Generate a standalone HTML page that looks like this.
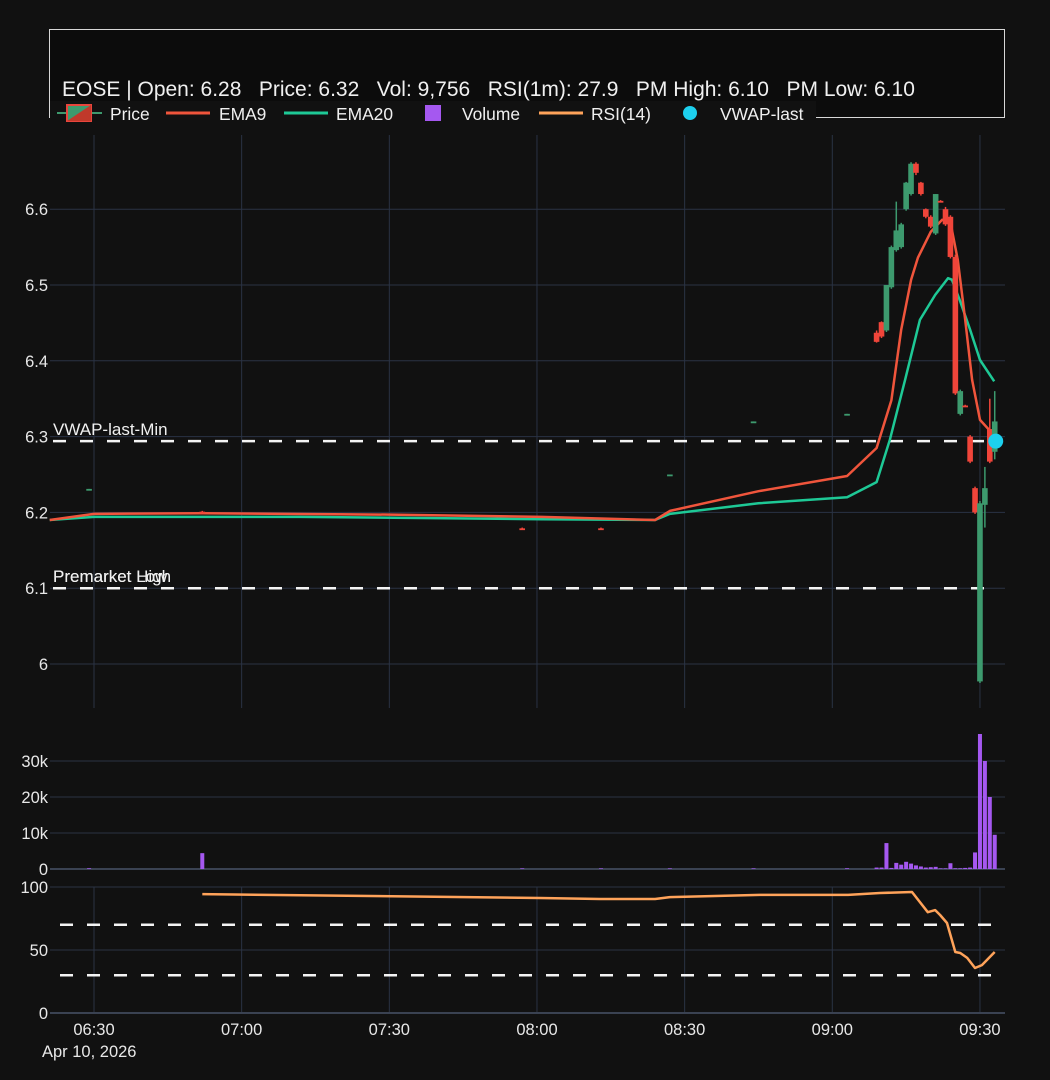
<!DOCTYPE html>
<html><head><meta charset="utf-8">
<style>
html,body{margin:0;padding:0;background:#111111;}
svg{display:block;font-family:"Liberation Sans",sans-serif;}
</style></head>
<body>
<svg id="chart" width="1050" height="1080" viewBox="0 0 1050 1080" xmlns="http://www.w3.org/2000/svg">
<rect x="0" y="0" width="1050" height="1080" fill="#111111"/>
<g id="grid"></g>
<g id="refs"></g>
<g id="marks"></g>
<g id="axes"></g>
<rect x="49.5" y="29.5" width="955" height="88" fill="#0c0c0c" stroke="#d8d8d8" stroke-width="1"/>
<text x="62" y="96" fill="#f0f0f0" font-size="21" xml:space="preserve">EOSE | Open: 6.28   Price: 6.32   Vol: 9,756   RSI(1m): 27.9   PM High: 6.10   PM Low: 6.10</text>
<g>
<rect x="50" y="101" width="766" height="24" fill="#111111"/>
<g>
<line x1="57" y1="113" x2="102" y2="113" stroke="#3d9a6e" stroke-width="2"/>
<rect x="67" y="105" width="24" height="16" fill="#3d9a6e" stroke="#e8453c" stroke-width="2"/>
<polygon points="91,105 91,121 67,121" fill="#c0392b"/>
<text x="110" y="120" fill="#f0f0f0" font-size="17.4">Price</text></g>
<g>
<line x1="166" y1="113" x2="210" y2="113" stroke="#f0553c" stroke-width="3"/>
<text x="219" y="120" fill="#f0f0f0" font-size="17.4">EMA9</text></g>
<g>
<line x1="284" y1="113" x2="328" y2="113" stroke="#1ec996" stroke-width="3"/>
<text x="336" y="120" fill="#f0f0f0" font-size="17.4">EMA20</text></g>
<g>
<rect x="425" y="105" width="16" height="16" fill="#a558f0"/>
<text x="462" y="120" fill="#f0f0f0" font-size="17.4">Volume</text></g>
<g>
<line x1="539" y1="113" x2="583" y2="113" stroke="#ffa35a" stroke-width="3"/>
<text x="591" y="120" fill="#f0f0f0" font-size="17.4">RSI(14)</text></g>
<g>
<circle cx="690" cy="113" r="7" fill="#1dd0ee"/>
<text x="720" y="120" fill="#f0f0f0" font-size="17.4">VWAP-last</text></g>
</g>
</svg>
<script>
// ---- data (time = minutes since midnight) ----
const candleTimes = [389,412,477,493,507,524,543,549,550,551,552,553,554,555,556,557,558,559,560,561,562,563,564,565,566,567,568,569,570,571,572,573];
const candleOpen  = [6.230,6.201,6.179,6.179,6.249,6.319,6.329,6.437,6.451,6.440,6.497,6.546,6.550,6.600,6.620,6.660,6.635,6.600,6.590,6.568,6.611,6.600,6.590,6.537,6.330,6.341,6.300,6.232,5.977,6.210,6.310,6.280];
const candleHigh  = [6.231,6.202,6.180,6.180,6.250,6.320,6.330,6.440,6.452,6.500,6.552,6.610,6.582,6.636,6.662,6.662,6.636,6.601,6.592,6.620,6.612,6.603,6.592,6.540,6.362,6.342,6.302,6.234,6.215,6.260,6.350,6.360];
const candleLow   = [6.229,6.200,6.177,6.177,6.248,6.318,6.328,6.424,6.430,6.438,6.495,6.544,6.548,6.598,6.618,6.645,6.618,6.588,6.575,6.566,6.609,6.578,6.535,6.355,6.328,6.339,6.265,6.198,5.975,6.180,6.265,6.270];
const candleClose = [6.231,6.200,6.178,6.178,6.250,6.320,6.330,6.425,6.432,6.500,6.550,6.572,6.580,6.635,6.660,6.648,6.620,6.590,6.577,6.620,6.610,6.580,6.537,6.357,6.360,6.340,6.267,6.200,6.212,6.232,6.267,6.320];
const volume      = [0.2,4.4,0.1,0.1,0.1,0.1,0.2,0.4,0.4,7.2,0.3,1.7,1.2,2.0,1.5,1.0,0.7,0.4,0.5,0.6,0.0,0.1,1.6,0.2,0.2,0.3,0.4,4.6,37.5,30,20,9.5];
const emaTimes9   = [381,390,412,452,481,504,507,525,543,549,552,554,556,557.4,560,562.3,564,565.5,567,568.4,570,572.4];
const ema9        = [6.190,6.198,6.199,6.197,6.194,6.190,6.202,6.228,6.248,6.285,6.348,6.441,6.507,6.536,6.570,6.586,6.583,6.533,6.454,6.375,6.322,6.305];
const emaTimes20  = [381,390,432,481,504,507,525,543,549,551.7,554.8,557.8,560.9,563.5,564.3,565.9,568,570,572.9];
const ema20       = [6.190,6.194,6.194,6.191,6.190,6.198,6.212,6.220,6.240,6.296,6.375,6.454,6.487,6.509,6.507,6.480,6.441,6.401,6.373];
const rsiTimes    = [412,480.6,492.8,504,507,525.3,543.2,549.7,556.2,559.4,560.9,561.9,563.3,565,566,567.4,569,570.4,573];
const rsi         = [94.4,91.3,90.5,90.5,92,93.7,93.7,95.2,96,80,81.7,77.8,71.4,48.4,47.6,43.7,35.7,38,48.4];
const vwapLast = 6.294, pmHigh = 6.10, pmLow = 6.10, vwapTime = 573.2;
const priceTicks = [6.0,6.1,6.2,6.3,6.4,6.5,6.6];
const priceTickLabels = ["6","6.1","6.2","6.3","6.4","6.5","6.6"];
const volTicks = [0,10,20,30];
const volTickLabels = ["0","10k","20k","30k"];
const rsiTicks = [0,50,100];
const rsiTickLabels = ["0","50","100"];
const timeTicks = [390,420,450,480,510,540,570];
const timeTickLabels = ["06:30","07:00","07:30","08:00","08:30","09:00","09:30"];

// ---- axes ----
const X0=50, X1=1005;
const xs = m => 94 + (m-390)*4.922;
const yP = p => 664 - (p-6)*758;
const yV = v => 869 - v*3.6;
const yR = r => 1013 - r*1.26;
const NS="http://www.w3.org/2000/svg";
function mk(tag, attrs, parent){const e=document.createElementNS(NS,tag);for(const k in attrs)e.setAttribute(k,attrs[k]);parent.appendChild(e);return e;}
const grid=document.getElementById('grid'), refs=document.getElementById('refs'), marks=document.getElementById('marks'), axes=document.getElementById('axes');
const GC="#2a3344";
timeTicks.forEach((t,i)=>{
  let l=mk('line',{x1:xs(t),x2:xs(t),y1:135,y2:708,stroke:GC,'stroke-width':1},grid);
  
  
  let l2=mk('line',{x1:xs(t),x2:xs(t),y1:887,y2:1013,stroke:GC,'stroke-width':1},grid);
  
  
  let tx=mk('text',{x:xs(t),y:1035,fill:'#e8e8e8','font-size':16.5,'text-anchor':'middle'},axes);
  tx.textContent=timeTickLabels[i];
  
  
});
let dt=mk('text',{x:42,y:1057,fill:'#e8e8e8','font-size':16.5},axes);
dt.textContent="Apr 10, 2026";


priceTicks.forEach((p,i)=>{
  let l=mk('line',{x1:X0,x2:X1,y1:yP(p),y2:yP(p),stroke:GC,'stroke-width':1},grid);
  
  
  let tx=mk('text',{x:48,y:yP(p)+6,fill:'#e8e8e8','font-size':16.5,'text-anchor':'end'},axes);
  tx.textContent=priceTickLabels[i];
  
  
});
volTicks.forEach((v,i)=>{
  let l=mk('line',{x1:X0,x2:X1,y1:yV(v),y2:yV(v),stroke:v===0?'#3a4252':GC,'stroke-width':v===0?2:1},grid);
  
  
  let tx=mk('text',{x:48,y:yV(v)+6,fill:'#e8e8e8','font-size':16.5,'text-anchor':'end'},axes);
  tx.textContent=volTickLabels[i];
  
  
});
rsiTicks.forEach((r,i)=>{
  let l=mk('line',{x1:X0,x2:X1,y1:yR(r),y2:yR(r),stroke:r===0?'#3a4252':GC,'stroke-width':r===0?2:1},grid);
  
  
  let tx=mk('text',{x:48,y:yR(r)+6,fill:'#e8e8e8','font-size':16.5,'text-anchor':'end'},axes);
  tx.textContent=rsiTickLabels[i];
  
  
});
function dash(y,x1,x2,name){let l=mk('line',{x1:x1,x2:x2,y1:y,y2:y,stroke:'#f4f4f4','stroke-width':2.5,'stroke-dasharray':'13,14'},refs);
  
  }
dash(yP(vwapLast),53,997,'vwap-line');
dash(yP(pmHigh),53,997,'premarket-high-line');
dash(yP(pmLow),53,997,'premarket-low-line');
dash(yR(70),60,997,'rsi-overbought-line');
dash(yR(30),60,997,'rsi-oversold-line');
[["VWAP-last-Min",yP(vwapLast)-6],["Premarket High",yP(pmHigh)-6],["Premarket Low",yP(pmLow)-6]].forEach(a=>{
  let t=mk('text',{x:53,y:a[1],fill:'#f0f0f0','font-size':17},refs);
  t.textContent=a[0];
  
  
});
candleTimes.forEach((t,i)=>{
  const h=Math.max(volume[i]*3.6,0.6);
  let r=mk('rect',{x:xs(t)-2,y:yV(0)-h,width:4,height:h,fill:'#a558f0'},marks);
  
  
});
function line(ts,vs,fy,color,name){
  const d=ts.map((t,i)=>(i?'L':'M')+xs(t).toFixed(1)+','+fy(vs[i]).toFixed(1)).join(' ');
  let p=mk('path',{d:d,fill:'none',stroke:color,'stroke-width':2.5,'stroke-linejoin':'round'},marks);
  
  
}
line(emaTimes20,ema20,yP,'#1ec996','ema20-line');
line(emaTimes9,ema9,yP,'#f0553c','ema9-line');
line(rsiTimes,rsi,yR,'#ffa35a','rsi-line');
candleTimes.forEach((t,i)=>{
  const up=candleClose[i]>=candleOpen[i];
  const col=up?'#3d9a6e':'#f0453a';
  const cx=xs(t);
  let w=mk('line',{x1:cx,x2:cx,y1:yP(candleHigh[i]),y2:yP(candleLow[i]),stroke:col,'stroke-width':1.5},marks);
  
  
  const top=yP(Math.max(candleOpen[i],candleClose[i])), bot=yP(Math.min(candleOpen[i],candleClose[i]));
  let b=mk('rect',{x:cx-2.8,y:top,width:5.6,height:Math.max(bot-top,1.8),fill:col},marks);
  
  
});
let dot=mk('circle',{cx:xs(vwapTime),cy:yP(vwapLast),r:7.5,fill:'#1dd0ee'},marks);


</script>
</body></html>
